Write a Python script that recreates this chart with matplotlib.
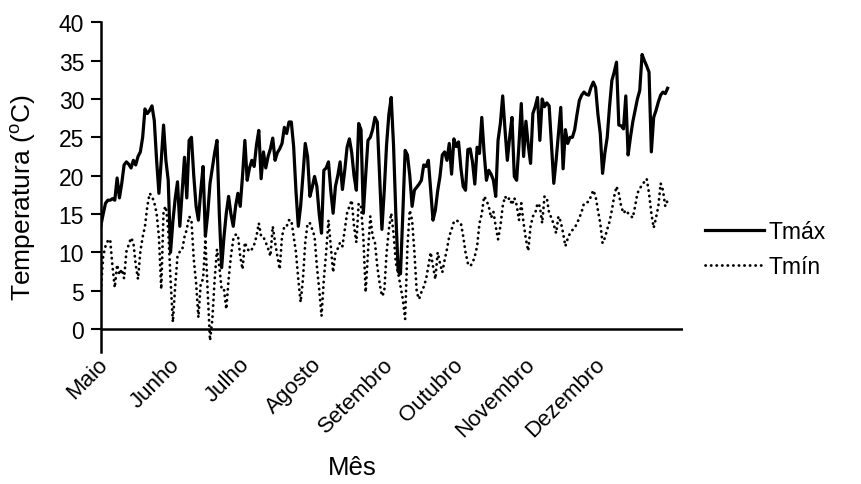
import matplotlib
matplotlib.use("Agg")
import matplotlib.pyplot as plt
from matplotlib.transforms import ScaledTranslation

plt.rcParams['font.family'] = ['Liberation Sans', 'DejaVu Sans']
plt.rcParams['mathtext.fontset'] = 'custom'
plt.rcParams['mathtext.rm'] = 'Liberation Sans'

months = ['Maio', 'Junho', 'Julho', 'Agosto', 'Setembro', 'Outubro', 'Novembro', 'Dezembro']
month_start_day = [0, 31, 61, 92, 123, 153, 184, 214]

tmax = [13.5, 15, 16.4, 16.8, 16.8, 17, 16.8, 19.7, 17.1, 19, 21.4, 21.8, 21.5, 21, 22, 21.4, 22.5, 23.1, 25, 28.7,
        28.1, 28.5, 29.1, 27.2, 22, 17.7, 22, 26.6, 22, 19.4, 10, 14, 17, 19.2, 13.4, 18, 22.4, 17.1, 24.6, 25,
        20, 16, 14.2, 18, 21.2, 12.1, 15, 19, 21, 23, 24.6, 15, 8.0, 12, 15.1, 17.3, 15, 13.4, 16, 17.7,
        16, 20, 24.6, 19.4, 21, 22, 21.2, 24, 25.9, 19.6, 23.1, 21, 22.5, 23.5, 24.9, 22, 23, 23.5, 24.2, 26.3,
        25.5, 27, 27, 23.8, 18, 13.4, 16, 20, 24.2, 22.5, 17.3, 18.5, 19.9, 18.6, 15, 12.5, 20.7, 21, 21.8, 18,
        15.1, 18.6, 20, 21.8, 18.2, 20.7, 23.7, 24.8, 23, 20, 18.1, 26.8, 26, 15.1, 20, 24.6, 25, 26, 27.6, 27,
        20, 13, 18, 24, 28, 30.2, 24, 15, 7.5, 7.2, 15, 23.3, 22.7, 20, 16, 18.1, 18.5, 18.9, 19.4, 21.4,
        21.2, 22, 18.1, 14.2, 15.5, 18, 19.9, 22.7, 23.1, 22, 24.2, 20.2, 24.8, 23.8, 24.4, 21, 18.6, 18.1, 23.4, 23.5,
        21.8, 18.9, 23.7, 22.9, 27.6, 23, 19.4, 20.7, 20.2, 19.4, 17.3, 24.6, 26.8, 30.4, 26, 22, 25, 27.6, 19.9, 19.4,
        24, 29.4, 22.5, 27.1, 24, 21.6, 28.1, 29, 30.2, 24.6, 30, 29, 29.5, 29.1, 24, 19, 22, 25.5, 28.9, 20.9,
        26, 24.2, 25, 25, 26, 28, 29.8, 30.5, 30.9, 30.6, 30.5, 31.5, 32.2, 31.5, 28, 25.5, 20.3, 23, 25, 29,
        32.4, 33.5, 34.8, 26.6, 26.5, 26.1, 30.4, 22.7, 25, 27, 28.5, 30, 31.1, 35.8, 35, 34.3, 33.5, 23.1, 27.6, 28.5,
        29.6, 30.5, 30.9, 30.7, 31.4]

tmin = [5, 9.5, 10.8, 11.5, 11.7, 8.2, 5.4, 8.4, 7.1, 7.8, 6.6, 10.1, 11, 11.9, 11.3, 8.4, 6.5, 10.1, 12, 13.4,
        16, 17.7, 17.3, 16.5, 15.1, 12, 5.2, 15.5, 16, 13, 6.5, 0.9, 5.6, 9.5, 10.1, 10.3, 12, 13, 14.7, 14.2,
        9.1, 6, 1.5, 6, 6.5, 11.7, 4.8, -1.5, 1.3, 6.5, 10.4, 8.2, 5.2, 5.2, 2.6, 6.5, 9.5, 11.7, 12.3, 12.3,
        9.5, 7.8, 11.3, 10.5, 10.1, 10.4, 11, 12.1, 13.8, 12.1, 12, 11.3, 10.5, 9.5, 13.4, 11.3, 9.5, 7.8, 12.1, 13.4,
        13.4, 14.2, 14.2, 12.1, 10, 6.5, 3.5, 6.5, 11.3, 13.8, 13.8, 13, 12.1, 8.2, 5.2, 1.7, 6.5, 10, 14.2, 10.8,
        7.4, 10, 10.5, 11.3, 10.8, 13, 15.1, 16, 16.8, 13.4, 11.3, 16.4, 16, 12, 4.8, 10, 14.7, 12.1, 11.3, 8.2,
        6, 4.3, 4.8, 9.9, 13, 15.1, 12.5, 8.6, 7.3, 5.6, 3.9, 1.3, 10.8, 15.5, 14.2, 10, 4.8, 3.9, 4.8, 5.5,
        6.5, 8.2, 10, 8.2, 6.5, 10, 8.6, 7.4, 9, 10.4, 12.1, 13, 14, 14.2, 14, 13.8, 12.1, 10, 8.6, 8.2,
        8.6, 9.5, 10.8, 13.8, 15, 17.3, 16.8, 16, 14.5, 15.3, 13.4, 11.7, 13.4, 16, 17.3, 16.8, 17.1, 16.2, 17.1, 16.2,
        14.2, 16.4, 13.8, 11.7, 10.2, 13.4, 14.7, 15.1, 16.4, 16, 13.8, 17.3, 17.1, 15.1, 14.5, 13.6, 12.5, 14.7, 14, 12.5,
        10.8, 11.8, 12.5, 12.9, 13.2, 13.8, 14.5, 15.3, 16.4, 16.5, 16.6, 17.3, 18.1, 17.3, 15.5, 13.8, 11.2, 11.9, 13, 14,
        15.5, 17.3, 18.6, 17.7, 16, 15.1, 15.5, 15.1, 14.8, 14.5, 16, 17.7, 18.3, 18.8, 19.2, 19.6, 17.7, 15.1, 13.2, 14.5,
        16, 19, 18.1, 16, 16.8]

fig = plt.figure(figsize=(8.62, 4.85), dpi=100)
ax = fig.add_axes([0.117, 0.272, 0.675, 0.68])

x = list(range(len(tmax)))
ax.plot(x, tmax, color='black', lw=2.3, solid_joinstyle='round', label='Tmáx', zorder=3)
ax.plot(x, tmin, color='black', lw=2.0, linestyle=(0, (0.1, 1.9)), dash_capstyle='round',
        label='Tmín', zorder=3)

ax.axhline(0, color='black', lw=1.8, zorder=2)

ax.set_xlim(0, 250.5)
ax.set_ylim(-3.0, 40)
ax.set_yticks(range(0, 41, 5))

for s in ['top', 'right', 'bottom']:
    ax.spines[s].set_visible(False)
ax.spines['left'].set_linewidth(1.8)

ax.set_xticks(month_start_day)
ax.set_xticklabels(months, rotation=45, ha='right', va='top', fontsize=16)
ax.tick_params(axis='x', length=0, pad=1)
offset = ScaledTranslation(11 / 100, 0, fig.dpi_scale_trans)
for lab in ax.get_xticklabels():
    lab.set_transform(lab.get_transform() + offset)
ax.tick_params(axis='y', direction='out', length=7, width=1.5, labelsize=16.5, pad=5)

ax.set_ylabel('Temperatura ($\\mathregular{^{o}}$C)', fontsize=19)
ax.yaxis.set_label_coords(-0.108, 0.47)
fig.text(352 / 862, 1 - 468 / 485, 'Mês', fontsize=18.5, ha='center', va='center')

ax.legend(loc='center left', bbox_to_anchor=(684 / 862, 1 - 250 / 485), bbox_transform=fig.transFigure,
          frameon=False, fontsize=16.5, handlelength=2.6, handletextpad=0.2, labelspacing=0.5)

fig.savefig('out.png', dpi=100)
